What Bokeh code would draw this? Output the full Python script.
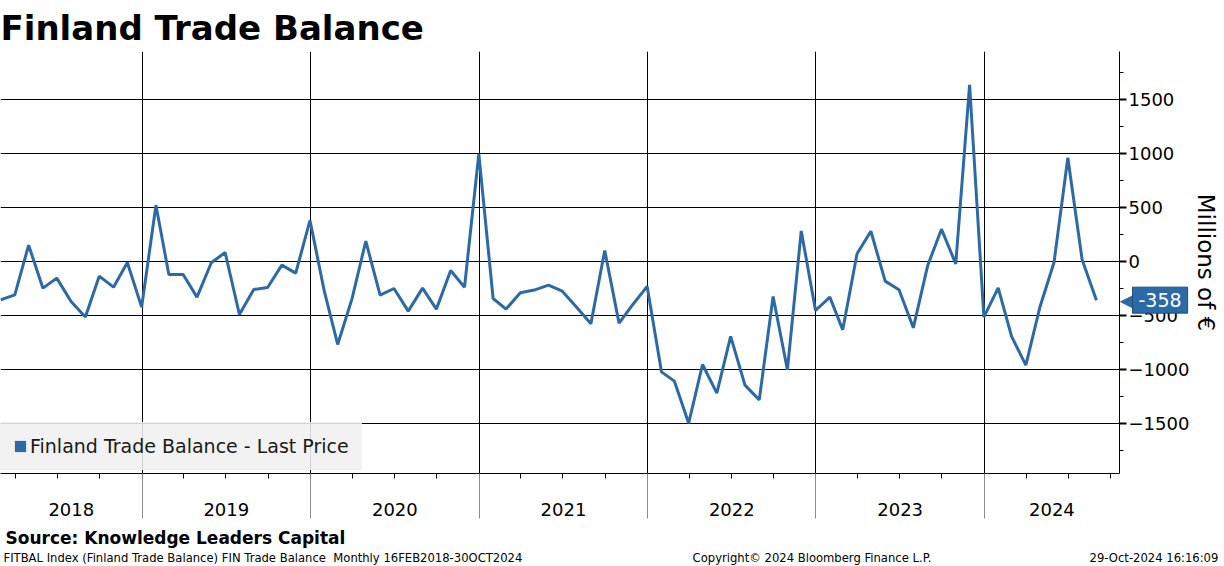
import datetime as dt
import calendar
from bokeh.plotting import figure
from bokeh.layouts import column
from bokeh.models import (Range1d, FixedTicker, Label, Legend, LegendItem, DatetimeAxis,
                          DatetimeTickFormatter, CustomJSTickFormatter)
from bokeh.core.properties import value
from bokeh.embed import file_html
from bokeh.resources import INLINE

# ---------------- data ----------------
start_year, start_month = 2018, 2
values = [
    # 2018 Feb-Dec
    -355, -309, 151, -247, -154, -370, -515, -136, -238, -9, -423,
    # 2019
    520, -120, -120, -330, -12, 83, -491, -259, -241, -34, -108, 380,
    # 2020
    -275, -768, -346, 188, -312, -250, -460, -247, -441, -83, -238, 997,
    # 2021
    -343, -441, -290, -265, -219, -275, -423, -577, 102, -571, -398, -231,
    # 2022
    -1022, -1108, -1497, -954, -1219, -694, -1145, -1281, -324, -1003, 283, -454,
    # 2023
    -330, -633, 71, 280, -182, -262, -614, -40, 299, -22, 1636, -515,
    # 2024 Jan-Aug
    -244, -694, -960, -429, -9, 960, 16, -358,
]
years = [2018, 2019, 2020, 2021, 2022, 2023, 2024]
y_major = [-1500, -1000, -500, 0, 500, 1000, 1500]
y_minor = [-1750, -1250, -750, -250, 250, 750, 1250, 1750]
last_value = values[-1]

title_text = "Finland Trade Balance"
legend_text = "Finland Trade Balance - Last Price"
axis_title = "Millions of \u20ac"
source_text = "Source: Knowledge Leaders Capital"
footer_left = "FITBAL Index (Finland Trade Balance) FIN Trade Balance \u00a0Monthly 16FEB2018-30OCT2024"
footer_mid = "Copyright\u00a9 2024 Bloomberg Finance L.P."
footer_right = "29-Oct-2024 16:16:09"

# month-end dates
dates = []
y, m = start_year, start_month
for _ in values:
    dates.append(dt.datetime(y, m, calendar.monthrange(y, m)[1]))
    m += 1
    if m > 12:
        m, y = 1, y + 1

x_start = dt.datetime(2018, 2, 28)
x_end = dt.datetime(2024, 10, 20)
EPOCH = dt.datetime(1970, 1, 1)


def ms(d):
    return (d - EPOCH).total_seconds() * 1000.0


year_ticks = [ms(dt.datetime(yr, 1, 1)) for yr in years if x_start < dt.datetime(yr, 1, 1) < x_end]
quarter_ticks = [ms(dt.datetime(yr, mo, 1)) for yr in years for mo in (4, 7, 10)
                 if x_start < dt.datetime(yr, mo, 1) < x_end]
mid_ticks = []
for yr in years:
    lo = max(dt.datetime(yr, 1, 1), x_start)
    hi = min(dt.datetime(yr + 1, 1, 1), x_end)
    mid_ticks.append((ms(lo) + ms(hi)) / 2.0)

BLUE = "#2c6aa6"
FONT = "DejaVu Sans"
FRAME_W = 1121      # plot frame width in px
MARKER_W = 68       # side-panel room taken by the last-value marker labels

p = figure(width=1224 + MARKER_W, height=521, x_axis_type="datetime", y_axis_location="right",
           x_range=Range1d(x_start, x_end), y_range=Range1d(-1963, 1944),
           output_backend="svg", toolbar_location=None,
           min_border_left=0, min_border_right=0, min_border_top=51, min_border_bottom=48)
p.outline_line_color = None
p.background_fill_color = "white"
p.border_fill_color = "white"

p.title.text = title_text
p.title.text_font = FONT
p.title.text_font_size = "34px"
p.title.text_font_style = "bold"
p.title.text_color = "black"
p.title.align = "left"
p.title.standoff = 8

# y axis (right)
yax = p.yaxis[0]
yax.ticker = FixedTicker(ticks=y_major, minor_ticks=y_minor)
yax.major_label_text_font = FONT
yax.major_label_text_font_size = "18px"
yax.major_label_text_color = "black"
yax.major_tick_out = 7
yax.major_tick_in = 0
yax.major_tick_line_width = 2
yax.minor_tick_out = 4
yax.minor_tick_in = 0
yax.major_label_standoff = 2
yax.axis_line_color = "black"
yax.axis_label = axis_title
yax.axis_label_text_font = FONT
yax.axis_label_text_font_size = "23px"
yax.axis_label_text_font_style = "normal"
yax.axis_label_text_color = "black"
yax.axis_label_standoff = 1

# x axis (below): year labels centred in each year, quarterly minor ticks
xax = p.xaxis[0]
xax.ticker = FixedTicker(ticks=mid_ticks, minor_ticks=quarter_ticks)
xax.formatter = DatetimeTickFormatter(years="%Y", months="%Y", days="%Y", hours="%Y",
                                      minutes="%Y", seconds="%Y", milliseconds="%Y",
                                      microseconds="%Y")
xax.major_tick_out = 0
xax.major_tick_in = 0
xax.minor_tick_out = 5
xax.minor_tick_in = 0
xax.minor_tick_line_color = "black"
xax.major_label_standoff = 24
xax.major_label_text_font = FONT
xax.major_label_text_font_size = "18px"
xax.major_label_text_color = "black"
xax.axis_line_color = "black"

# second axis below: grey year separators reaching up to the frame
sep = DatetimeAxis(ticker=FixedTicker(ticks=year_ticks, minor_ticks=[]),
                   formatter=CustomJSTickFormatter(code="return ''"),
                   axis_line_color=None, major_tick_in=45, major_tick_out=0,
                   major_tick_line_color="#8c8c8c", minor_tick_line_color=None,
                   major_label_text_font_size="1px", major_label_standoff=0)
p.add_layout(sep, "below")

p.xgrid.ticker = FixedTicker(ticks=year_ticks)
p.ygrid.ticker = yax.ticker
p.xgrid.grid_line_color = "black"
p.ygrid.grid_line_color = "black"

p.line(x=dates, y=values, line_color=BLUE, line_width=3)
sq = p.quad(left=[dates[0]], right=[dates[0]], top=[float("nan")], bottom=[float("nan")],
            fill_color=BLUE, line_color=None)

legend = Legend(items=[LegendItem(label=legend_text, renderers=[sq])], location=(0, 3))
legend.background_fill_color = "#f0f0f0"
legend.background_fill_alpha = 0.88
legend.border_line_color = "#f0f0f0"
legend.border_line_alpha = 0.0
legend.label_text_font = FONT
legend.label_text_font_size = "19px"
legend.label_text_color = "#1a1a1a"
legend.glyph_width = 14
legend.glyph_height = 14
legend.label_standoff = 3
legend.padding = 13
legend.margin = 0
legend.label_height = 20
p.add_layout(legend)

# last value marker (side panel -> not clipped to the frame)
p.add_layout(Label(x=ms(x_end), y=last_value, x_offset=0, text="\u25c0",
                   text_font=FONT, text_font_size="20px", text_color=BLUE,
                   text_align="left", text_baseline="middle"), "right")
p.add_layout(Label(x=ms(x_end), y=last_value, x_offset=13, text=str(last_value),
                   text_font=FONT, text_font_size="19px", text_color="white",
                   text_align="left", text_baseline="middle",
                   background_fill_color=BLUE, border_line_color="#1d4f80",
                   padding=6), "right")

# footer strip (frame aligned with the main frame: 1 unit = 1 px)
f = figure(width=1224 + MARKER_W, height=45, x_range=Range1d(0, FRAME_W), y_range=Range1d(45, 0),
           output_backend="svg", toolbar_location=None,
           min_border_left=0, min_border_right=0, min_border_top=0, min_border_bottom=0)
f.axis.visible = False
f.grid.visible = False
f.outline_line_color = None
f.border_fill_color = "white"
f.background_fill_color = "white"
f.text(x=[5], y=[16], text=[source_text], text_font=value(FONT), text_font_size="17px",
       text_font_style="bold", text_color="black", text_align="left", text_baseline="middle")
f.text(x=[3], y=[36], text=[footer_left], text_font=value(FONT), text_font_size="11.6px",
       text_color="black", text_align="left", text_baseline="middle")
f.text(x=[813], y=[36], text=[footer_mid], text_font=value(FONT), text_font_size="11.6px",
       text_color="black", text_align="center", text_baseline="middle")
f.add_layout(Label(x=1220, y=36, text=footer_right, text_font=FONT, text_font_size="11.6px",
                   text_color="black", text_align="right", text_baseline="middle"), "right")

layout = column(p, f, spacing=0)
open("out.html", "w").write(file_html(layout, INLINE))
